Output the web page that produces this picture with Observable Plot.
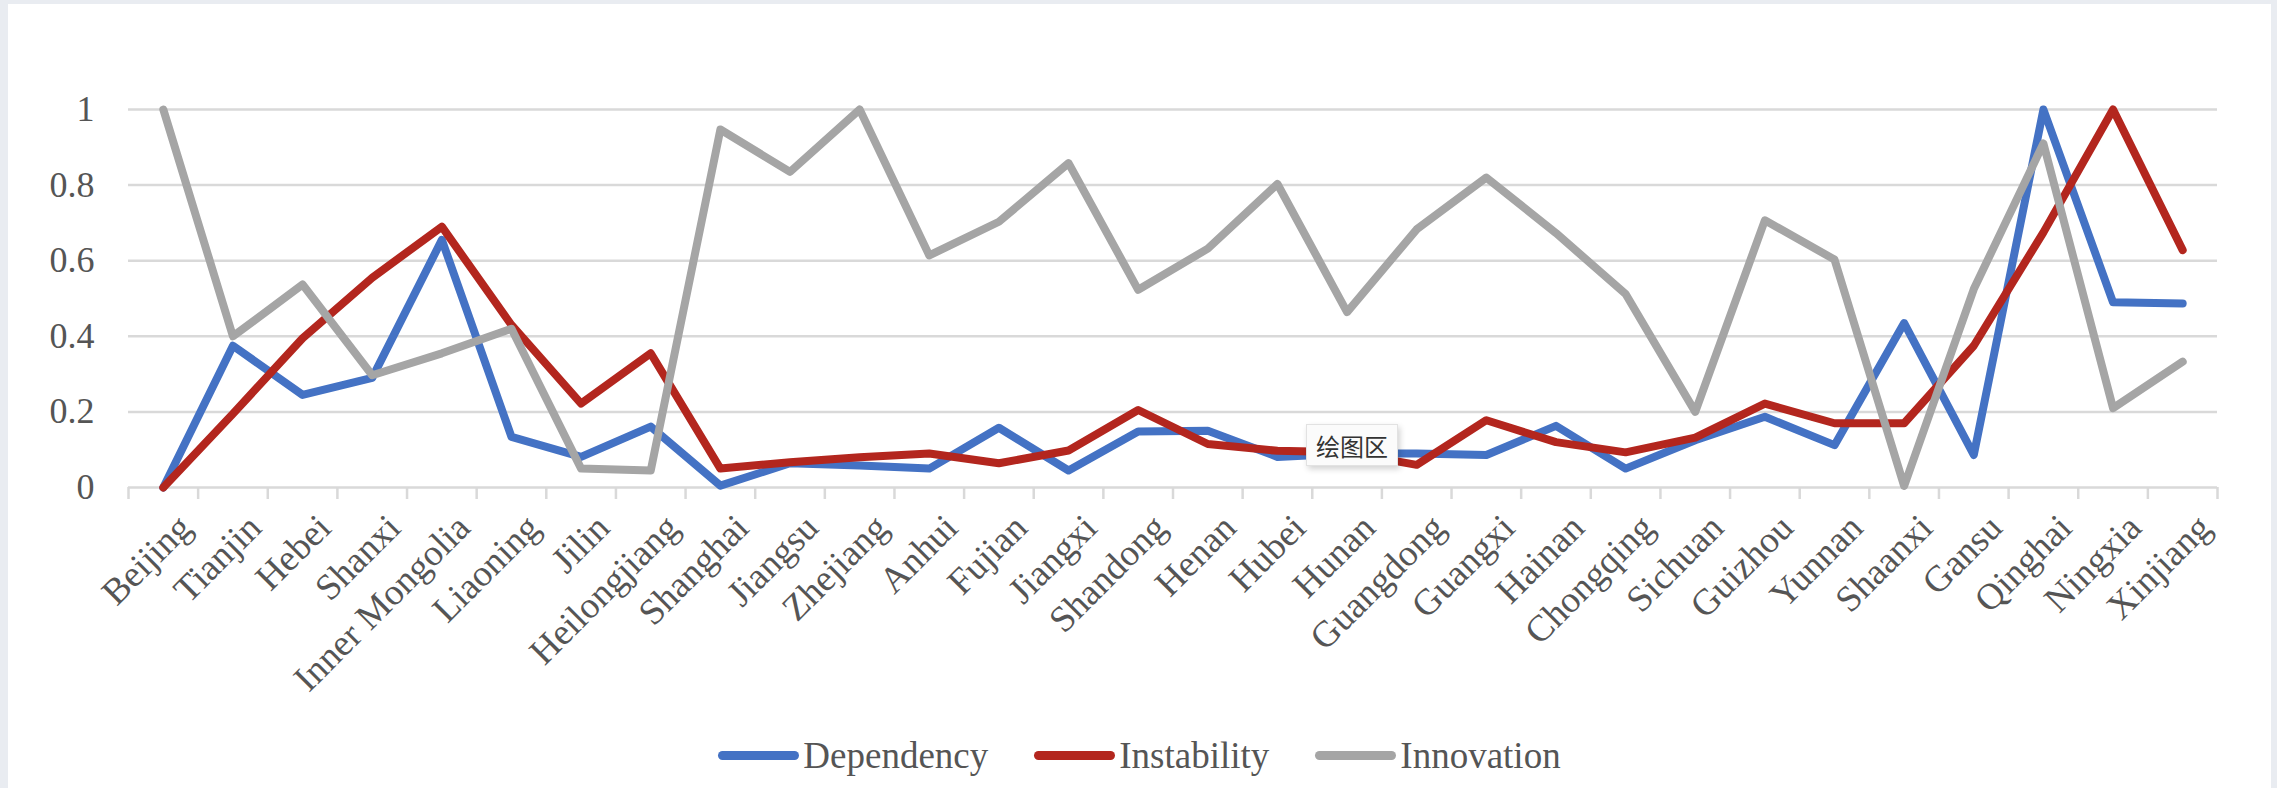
<!DOCTYPE html>
<html>
<head>
<meta charset="utf-8">
<script src="https://cdn.jsdelivr.net/npm/d3@7"></script>
<script src="https://cdn.jsdelivr.net/npm/@observablehq/plot@0.6"></script>
<style>
  html, body { margin: 0; padding: 0; background: #e9ecf1; width: 2277px; height: 788px; overflow: hidden; }
  #panel { position: absolute; left: 8px; top: 4px; width: 2263px; height: 784px; background: #ffffff; }
  #chart { position: absolute; left: 0; top: 0; }
  #legend { position: absolute; left: 0; top: 731px; width: 2263px; height: 40px; display: flex; justify-content: center; align-items: center;
            font-family: "Liberation Serif", "Times New Roman", serif; font-size: 37px; color: #555555; }
  .item { display: flex; align-items: center; margin: 0 23px; }
  .sw { width: 81px; height: 9px; border-radius: 4.5px; margin-right: 4px; }
  #tip { position: absolute; left: 1298px; top: 420px; width: 90px; height: 40px; background: #fbfbfb; border: 1px solid #e2e2e2;
         box-shadow: 2px 3px 6px rgba(0,0,0,0.18); font-family: "Noto Sans CJK SC", sans-serif; font-size: 24px; color: #333;
         display: flex; align-items: center; justify-content: center; }
</style>
</head>
<body>
<div id="panel">
  <div id="chart"></div>
  <div id="legend"></div>
  <div id="tip">绘图区</div>
</div>
<script>
// ---- data ----
const provinces = ["Beijing","Tianjin","Hebei","Shanxi","Inner Mongolia","Liaoning","Jilin","Heilongjiang","Shanghai","Jiangsu",
  "Zhejiang","Anhui","Fujian","Jiangxi","Shandong","Henan","Hubei","Hunan","Guangdong","Guangxi",
  "Hainan","Chongqing","Sichuan","Guizhou","Yunnan","Shaanxi","Gansu","Qinghai","Ningxia","Xinjiang"];
const dependency = [0, 0.375, 0.245, 0.29, 0.655, 0.134, 0.081, 0.161, 0.005, 0.064,
  0.058, 0.05, 0.158, 0.045, 0.148, 0.15, 0.081, 0.09, 0.09, 0.086,
  0.163, 0.05, 0.125, 0.187, 0.112, 0.435, 0.086, 1.0, 0.49, 0.487];
const instability = [0, 0.195, 0.395, 0.555, 0.69, 0.43, 0.222, 0.355, 0.05, 0.067,
  0.08, 0.09, 0.064, 0.098, 0.205, 0.115, 0.097, 0.093, 0.06, 0.178,
  0.12, 0.093, 0.132, 0.222, 0.17, 0.17, 0.375, 0.675, 1.0, 0.628];
const innovation = [1.0, 0.4, 0.537, 0.297, 0.355, 0.42, 0.05, 0.045, 0.947, 0.835,
  1.0, 0.614, 0.703, 0.858, 0.523, 0.632, 0.803, 0.464, 0.683, 0.82,
  0.673, 0.512, 0.2, 0.707, 0.603, 0.004, 0.525, 0.91, 0.21, 0.333];
const seriesNames = ["Dependency", "Instability", "Innovation"];
const yTickValues = [0, 0.2, 0.4, 0.6, 0.8, 1];
const yTickLabels = ["0", "0.2", "0.4", "0.6", "0.8", "1"];

// ---- styles ----
const seriesColors = ["#4472C4", "#B3261E", "#A5A5A5"];
const textColor = "#555555";
const gridColor = "#d9d9d9";

// ---- build table ----
const seriesValues = [dependency, instability, innovation];
const rows = [];
seriesNames.forEach((s, k) => provinces.forEach((p, i) => rows.push({series: s, province: p, idx: i, value: seriesValues[k][i]})));
const boundaries = d3.range(provinces.length + 1).map(k => k - 0.5);

const chart = Plot.plot({
  width: 2263,
  height: 720,
  marginLeft: 120,
  marginRight: 54,
  marginTop: 105,
  marginBottom: 237,
  style: {fontFamily: "Liberation Serif, Times New Roman, serif", fontSize: "36px", color: textColor, background: "transparent", overflow: "visible"},
  x: {domain: [-0.5, provinces.length - 0.5], axis: null},
  y: {domain: [0, 1], axis: null},
  color: {domain: seriesNames, range: seriesColors},
  marks: [
    Plot.gridY(yTickValues, {stroke: gridColor, strokeOpacity: 1, strokeWidth: 2.5}),
    Plot.axisX(boundaries, {tickSize: 12, tickFormat: () => "", stroke: gridColor, strokeWidth: 2.5, label: null}),
    Plot.axisY(yTickValues, {tickSize: 0, tickPadding: 34, tickFormat: (d) => yTickLabels[yTickValues.indexOf(d)], label: null, fontSize: 36, fill: textColor}),
    Plot.text(provinces, {x: (d, i) => i, y: () => 0, text: d => d, rotate: -45, textAnchor: "end", lineAnchor: "middle",
      dx: 22, dy: 34, fontSize: 37, fill: textColor, fontFamily: "Liberation Serif, Times New Roman, serif"}),
    Plot.line(rows, {x: "idx", y: "value", z: "series", stroke: "series", strokeWidth: 8, strokeLinejoin: "round", strokeLinecap: "round"})
  ]
});
document.getElementById("chart").appendChild(chart);

// ---- legend ----
const legend = document.getElementById("legend");
seriesNames.forEach((s, k) => {
  const item = document.createElement("div");
  item.className = "item";
  const sw = document.createElement("div");
  sw.className = "sw";
  sw.style.background = seriesColors[k];
  const t = document.createElement("span");
  t.textContent = s;
  item.appendChild(sw);
  item.appendChild(t);
  legend.appendChild(item);
});
</script>
</body>
</html>
